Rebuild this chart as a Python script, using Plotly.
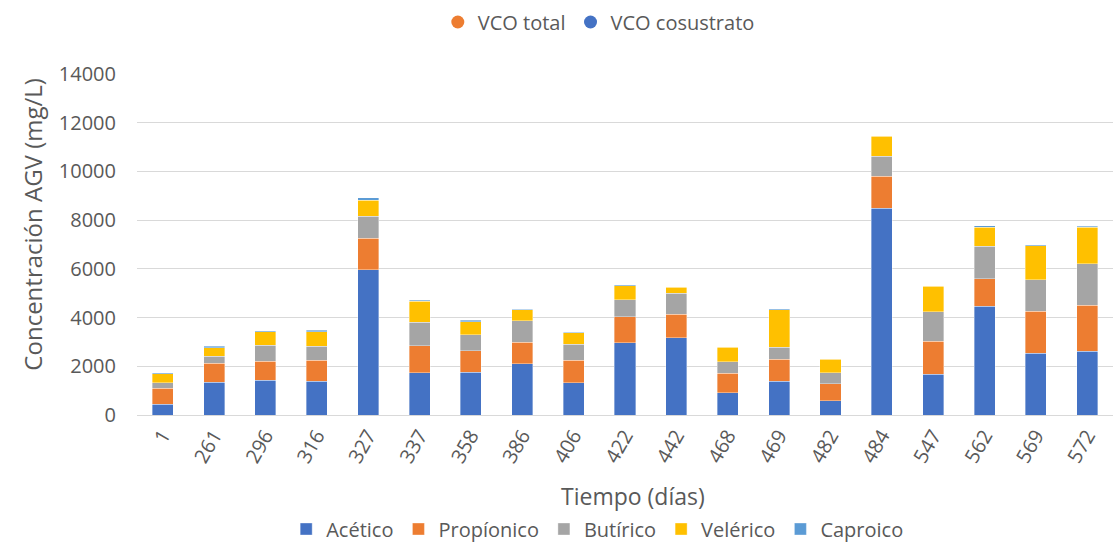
import plotly.graph_objects as go

# ── data ─────────────────────────────────────────────────────────
dias = ["1", "261", "296", "316", "327", "337", "358", "386", "406", "422",
        "442", "468", "469", "482", "484", "547", "562", "569", "572"]

acetico     = [440, 1355, 1437, 1383, 5955, 1725, 1752, 2108, 1314, 2957,
               3162, 917, 1396, 589, 8488, 1670, 4463, 2533, 2615]
propionico  = [655, 767, 767, 862, 1301, 1109, 876, 876, 931, 1068,
               972, 794, 890, 684, 1314, 1355, 1123, 1725, 1889]
butirico    = [235, 287, 657, 575, 903, 972, 658, 877, 657, 698,
               863, 466, 493, 452, 821, 1205, 1341, 1286, 1698]
velerico    = [370, 356, 548, 603, 657, 862, 547, 465, 466, 589,
               246, 602, 1547, 561, 822, 1054, 780, 1397, 1505]
caproico    = [40, 55, 55, 54, 110, 41, 55, 14, 27, 41,
               28, 27, 41, 28, 27, 28, 55, 55, 42]

# ── Office palette ───────────────────────────────────────────────
BLUE   = "#4472C4"
ORANGE = "#ED7D31"
GREY   = "#A5A5A5"
GOLD   = "#FFC000"
LBLUE  = "#5B9BD5"
TEXT   = "#595959"
GRID   = "#D9D9D9"
FONT   = "Open Sans, sans-serif"

series = [
    ("Acético", acetico, BLUE),
    ("Propíonico", propionico, ORANGE),
    ("Butírico", butirico, GREY),
    ("Velérico", velerico, GOLD),
    ("Caproico", caproico, LBLUE),
]

fig = go.Figure()
for name, vals, color in series:
    fig.add_trace(go.Bar(
        x=dias, y=vals, name=name,
        marker=dict(color=color, line=dict(width=0.6, color="rgba(255,255,255,0.6)")),
        legend="legend",
    ))

# legend-only markers for the top legend
for name, color in [("VCO total", ORANGE), ("VCO cosustrato", BLUE)]:
    fig.add_trace(go.Scatter(
        x=[None], y=[None], mode="markers", name=name,
        marker=dict(color=color, size=13, symbol="circle"),
        legend="legend2",
    ))

fig.update_layout(
    barmode="stack",
    bargap=0.59,
    width=1113, height=542,
    paper_bgcolor="white",
    plot_bgcolor="white",
    font=dict(family=FONT, color=TEXT, size=20),
    margin=dict(t=74, b=127, l=137, r=0),
    xaxis=dict(
        type="category", tickangle=-60, showgrid=False, automargin=False,
        showline=True, linecolor=GRID, linewidth=1, ticks="",
        tickfont=dict(size=20, color=TEXT),
    ),
    yaxis=dict(
        range=[0, 14000], dtick=2000, tickformat="d", automargin=False,
        showgrid=True, gridcolor=GRID, gridwidth=1, ticklabelstandoff=20,
        zeroline=False, tickfont=dict(size=20, color=TEXT),
    ),
    annotations=[
        dict(text="Tiempo (días)", xref="paper", yref="paper", x=0.508, y=-0.239,
             xanchor="center", yanchor="middle", showarrow=False,
             font=dict(size=23, color=TEXT)),
        dict(text="Concentración AGV (mg/L)", xref="paper", yref="paper",
             x=-0.108, y=0.56, xanchor="center", yanchor="middle", textangle=-90,
             showarrow=False, font=dict(size=24, color=TEXT)),
    ],
    legend=dict(
        orientation="h", x=0.537, xanchor="center", xref="container",
        y=1 - 529 / 542, yanchor="middle", yref="container",
        font=dict(size=20, color=TEXT), traceorder="normal",
        itemwidth=30, tracegroupgap=0,
    ),
    legend2=dict(
        orientation="h", x=0.538, xanchor="center", xref="container",
        y=1 - 22 / 542, yanchor="middle", yref="container",
        font=dict(size=20, color=TEXT), itemwidth=30,
    ),
)

fig.write_html("out.html", config={"displayModeBar": False},
               post_script="document.body.style.margin='0';")
